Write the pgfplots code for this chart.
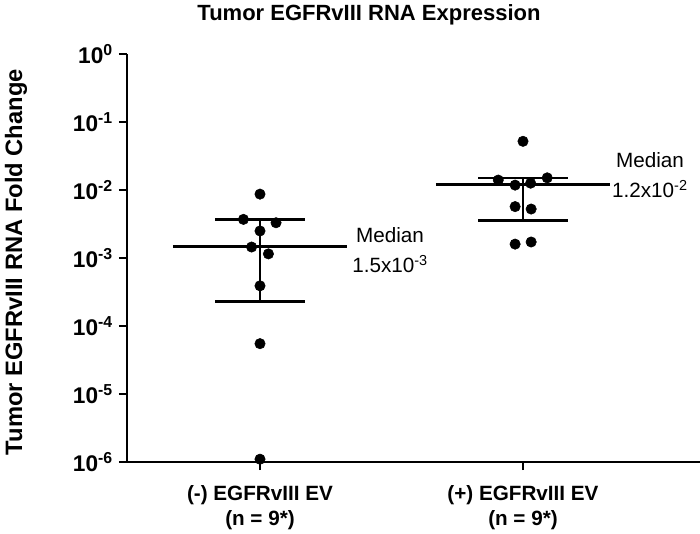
\documentclass[border=0pt]{standalone}
\usepackage{fontspec}
\setmainfont{Liberation Sans}
\usepackage{pgfplots}
\pgfplotsset{compat=1.18}

% group 1 = (-) EV, group 2 = (+) EV; x jitter as in the figure
\pgfplotstableread{
x      y
1.000  8.7e-3
0.937  3.7e-3
1.061  3.3e-3
1.000  2.5e-3
0.968  1.45e-3
1.032  1.15e-3
1.000  3.9e-4
1.000  5.5e-5
1.000  1.1e-6
}\negev
\pgfplotstableread{
x      y
2.000  0.052
1.906  0.0140
2.092  0.0151
1.970  0.0118
2.029  0.0126
1.970  5.7e-3
2.031  5.25e-3
1.970  1.60e-3
2.031  1.72e-3
}\posev

\begin{document}
\begin{tikzpicture}
\begin{axis}[
  scale only axis,
  width=429.75pt, height=306pt,
  at={(0,0)}, anchor=south west,
  ymode=log, ymin=1e-6, ymax=1,
  xmin=0.4943, xmax=2.673,
  clip=false,
  axis x line*=bottom, axis y line*=left,
  axis line style={line width=2.2pt, -},
  every tick/.style={line width=1.6pt, black},
  tick align=outside,
  major tick length=6pt,
  yminorticks=false,
  ytick={1e-6,1e-5,1e-4,1e-3,1e-2,1e-1,1},
  yticklabels={10\textsuperscript{-6},10\textsuperscript{-5},10\textsuperscript{-4},10\textsuperscript{-3},10\textsuperscript{-2},10\textsuperscript{-1},10\textsuperscript{0}},
  yticklabel style={font=\fontsize{17}{20}\selectfont\bfseries, xshift=-1pt},
  xtick={1,2},
  xticklabels={(-) EGFRvIII EV\\(n = 9*),(+) EGFRvIII EV\\(n = 9*)},
  xticklabel style={font=\fontsize{15.5}{18.75}\selectfont\bfseries, align=center, yshift=-8pt},
  ylabel={Tumor EGFRvIII RNA Fold Change},
  ylabel style={font=\fontsize{17.8}{20}\selectfont\bfseries,
    at={(axis description cs:-0.1937,0.49)}, anchor=center},
]
% medians and interquartile ranges
\addplot[black, line width=2.2pt] coordinates {(0.669,1.5e-3) (1.331,1.5e-3)};
\addplot[black, line width=2.2pt] coordinates {(0.829,3.7e-3) (1.171,3.7e-3)};
\addplot[black, line width=2.2pt] coordinates {(0.829,2.3e-4) (1.171,2.3e-4)};
\addplot[black, line width=2.2pt] coordinates {(1,2.3e-4) (1,3.7e-3)};
\addplot[black, line width=2.2pt] coordinates {(1.669,1.2e-2) (2.331,1.2e-2)};
\addplot[black, line width=2.2pt] coordinates {(1.829,1.5e-2) (2.171,1.5e-2)};
\addplot[black, line width=2.2pt] coordinates {(1.829,3.6e-3) (2.171,3.6e-3)};
\addplot[black, line width=2.2pt] coordinates {(2,3.6e-3) (2,1.5e-2)};
% individual tumours
\addplot[only marks, mark=*, mark size=3.9pt, black] table[x=x, y=y] {\negev};
\addplot[only marks, mark=*, mark size=3.9pt, black] table[x=x, y=y] {\posev};
\node[anchor=west, align=center, font=\fontsize{15.5}{22.5}\selectfont, inner sep=0pt]
  at (axis cs:1.35,1.3e-3) {Median\\1.5x10\textsuperscript{-3}};
\node[anchor=west, align=center, font=\fontsize{15.5}{22.5}\selectfont, inner sep=0pt]
  at (axis cs:2.338,1.66e-2) {Median\\1.2x10\textsuperscript{-2}};
\end{axis}
\node[font=\fontsize{16.5}{19}\selectfont\bfseries] at (181.5pt,335.25pt) {Tumor EGFRvIII RNA Expression};
\pgfresetboundingbox
\path[use as bounding box] (-95.25pt,-53.25pt) rectangle (429.75pt,346.5pt);
\end{tikzpicture}
\end{document}
